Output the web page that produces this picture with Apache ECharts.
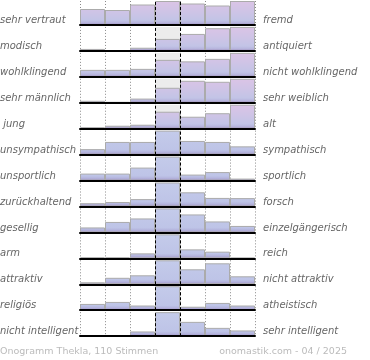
<!DOCTYPE html>
<html>
<head>
<meta charset="utf-8">
<script src="https://cdn.jsdelivr.net/npm/echarts@6/dist/echarts.min.js"></script>
<style>html,body{margin:0;padding:0;background:#fff;}#c{width:370px;height:360px;}</style>
</head>
<body>
<div id="c"></div>
<script>
// ---- data ----
const leftLabels = ['sehr vertraut','modisch','wohlklingend','sehr männlich',' jung','unsympathisch','unsportlich','zurückhaltend','gesellig','arm','attraktiv','religiös','nicht intelligent'];
const rightLabels = ['fremd','antiquiert','nicht wohlklingend','sehr weiblich','alt','sympathisch','sportlich','forsch','einzelgängerisch','reich','nicht attraktiv','atheistisch','sehr intelligent'];
const columns = ['1','2','3','4','5','6','7'];
const rowVertraut      = [16, 15, 20.5, 24, 21.5, 19.5, 24];
const rowModisch       = [2, 0, 3.2, 12, 17, 22.7, 24];
const rowWohlklingend  = [7, 7, 8, 17, 15.5, 18, 24];
const rowMaennlich     = [2, 0.8, 4.2, 15, 22, 21, 24];
const rowJung          = [1.5, 3, 4, 17, 12, 15.5, 24];
const rowSympathisch   = [5.5, 12.7, 12.7, 24, 13.7, 12.7, 8.3];
const rowSportlich     = [7, 7, 13, 24, 6, 8.5, 2];
const rowForsch        = [3.3, 4.5, 7.4, 24, 14.2, 8.6, 8.4];
const rowGesellig      = [5, 10.5, 14, 24, 18, 11, 6.5];
const rowReich         = [1, 1, 5, 24, 9, 6.7, 0.6];
const rowAttraktiv     = [2, 6.5, 9, 24, 15, 21, 8];
const rowReligioes     = [6.3, 8.3, 4.7, 24, 3.5, 7.3, 4.7];
const rowIntelligent   = [1, 0, 4.7, 24, 14.3, 8.3, 5.7];
const rowValues = [rowVertraut,rowModisch,rowWohlklingend,rowMaennlich,rowJung,rowSympathisch,rowSportlich,rowForsch,rowGesellig,rowReich,rowAttraktiv,rowReligioes,rowIntelligent];
const rowMax = 24;
const footerLeft = 'Onogramm Thekla, 110 Stimmen';
const footerRight = 'onomastik.com - 04 / 2025';

// ---- layout ----
const GL = 80, GW = 175, TOP0 = 1, STEP = 25.93, GH = 24;
const pinkStops = [
  {offset:0, color:'#dbc4e6'},{offset:0.45, color:'#cec4e6'},{offset:0.8, color:'#c2c4e6'},
  {offset:0.9, color:'#b8b6de'},{offset:1, color:'#a090c4'}];
const blueStops = [
  {offset:0, color:'#c4cbea'},{offset:0.8, color:'#bec4e7'},
  {offset:0.9, color:'#b4b4dd'},{offset:1, color:'#a090c4'}];

const grid = [], xAxis = [], yAxis = [], series = [], graphic = [];
rowValues.forEach((vals, i) => {
  const top = TOP0 + i*STEP;
  const base = top + GH;
  grid.push({left: GL, width: GW, top: top, height: GH});
  xAxis.push({gridIndex:i, type:'category', data: columns, boundaryGap:true,
    axisLine:{show:true, lineStyle:{color:'#000', width:2}}, axisTick:{show:false},
    axisLabel:{show:false}, splitLine:{show:false}, z: 10});
  xAxis.push({gridIndex:i, type:'value', min:0, max:7, interval:1,
    axisLine:{show:false}, axisTick:{show:false}, axisLabel:{show:false},
    splitLine:{show:true, lineStyle:{color:'#8a8a8a', type:[1,2], width:1}}});
  yAxis.push({gridIndex:i, type:'value', min:0, max:rowMax, show:false, splitLine:{show:false}});
  series.push({
    type:'bar', xAxisIndex:2*i, yAxisIndex:i, data: vals, barCategoryGap:'0%',
    itemStyle:{
      color:{type:'linear', x:0, y:top, x2:0, y2:base, global:true, colorStops: i < 5 ? pinkStops : blueStops},
      borderColor:'#ababab', borderWidth:1
    },
    silent:true,
    markArea:{silent:true, itemStyle:{color:'#ececec'}, data:[[{xAxis:'4'},{xAxis:'4'}]]}
  });
  series.push({
    type:'line', xAxisIndex:2*i+1, yAxisIndex:i, data:[[0,0]], symbol:'none',
    lineStyle:{width:0, opacity:0}, silent:true, z:5,
    markLine:{silent:true, symbol:['none','none'], label:{show:false},
      lineStyle:{color:'#000', type:[3,2], width:1},
      data:[{xAxis:3},{xAxis:4}]}
  });
  graphic.push({type:'text', left:0, top: base - 9.5, style:{text:leftLabels[i], font:'italic 10px "DejaVu Sans"', fill:'#666'}});
  graphic.push({type:'text', left:263, top: base - 9.5, style:{text:rightLabels[i], font:'italic 10px "DejaVu Sans"', fill:'#666'}});
});
graphic.push({type:'text', left:0, top:347, style:{text:footerLeft, font:'9.5px "DejaVu Sans"', fill:'#bbb'}});
graphic.push({type:'text', right:23, top:347, style:{text:footerRight, font:'9.5px "DejaVu Sans"', fill:'#bbb'}});

const chart = echarts.init(document.getElementById('c'), null, {renderer:'canvas'});
chart.setOption({animation:false, grid, xAxis, yAxis, series, graphic});
</script>
</body>
</html>
